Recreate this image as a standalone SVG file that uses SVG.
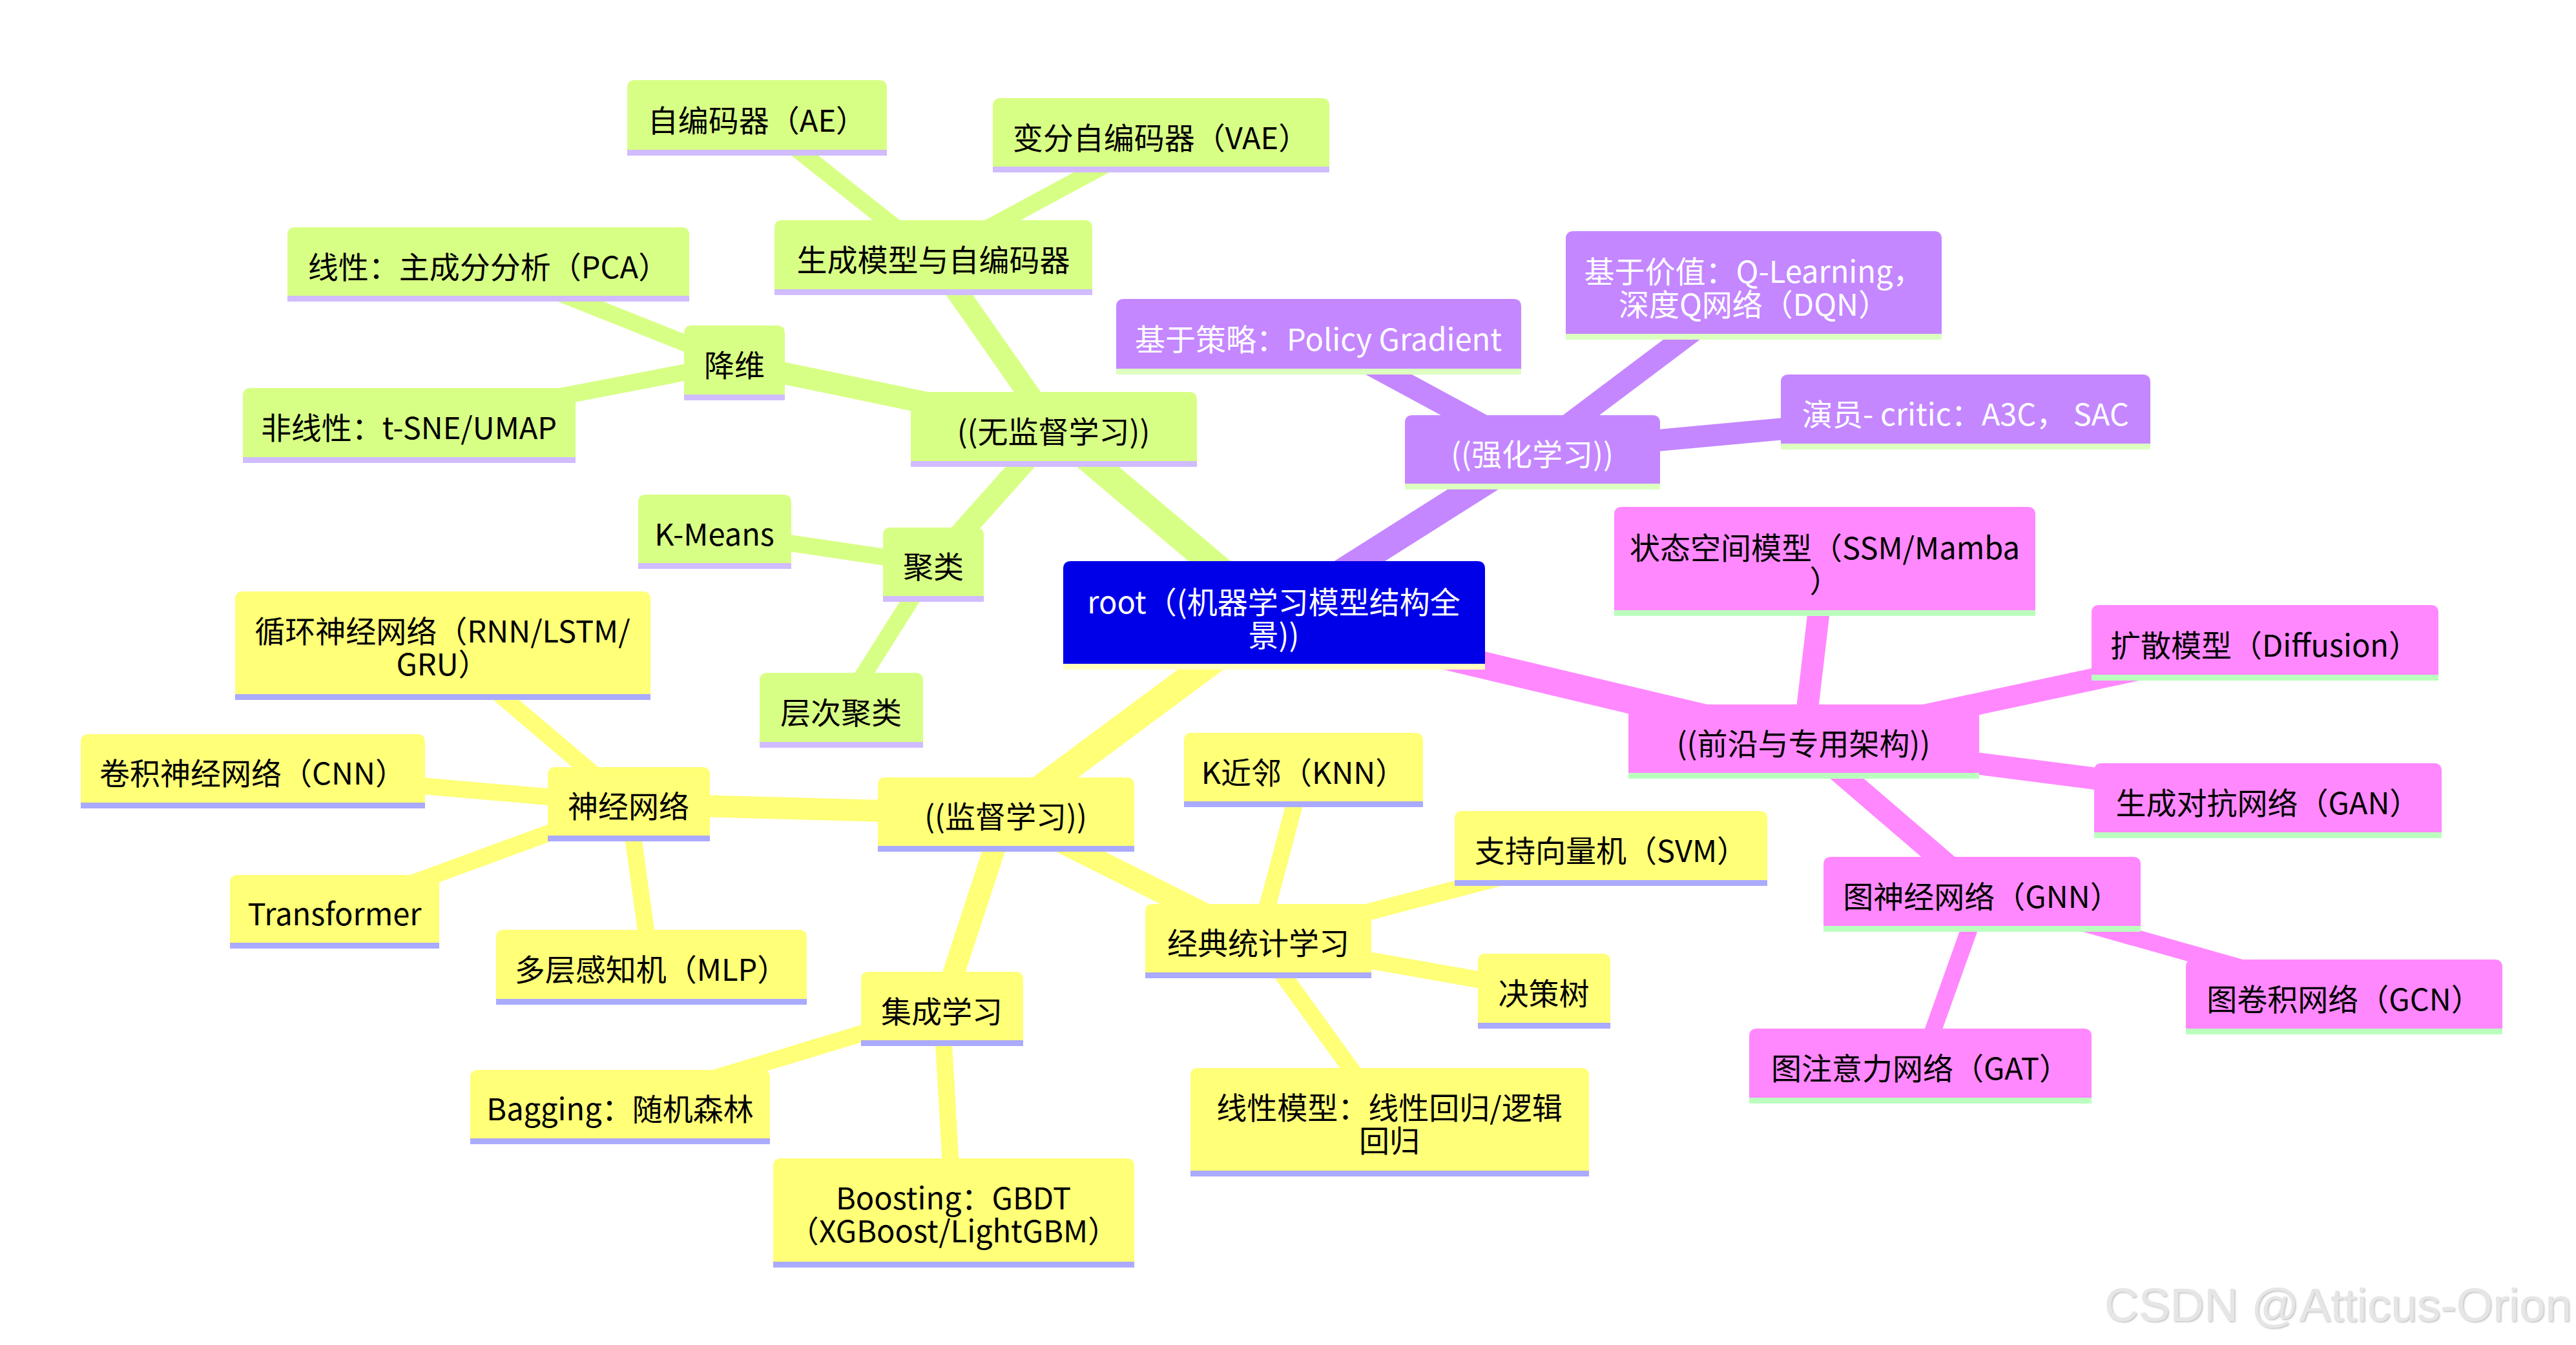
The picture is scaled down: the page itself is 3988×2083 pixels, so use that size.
<svg xmlns="http://www.w3.org/2000/svg" width="3988" height="2083" viewBox="0 0 3988 2083">
<style>
text{font-family:"Noto Sans CJK SC","Noto Sans",sans-serif;font-size:47px;text-anchor:middle;dominant-baseline:central;fill:#000}
.wt text{fill:#fff}
.e{fill:none;stroke-linecap:butt}
.ey{stroke:#ffff78}.eg{stroke:#d8ff85}.ep{stroke:#c487ff}.em{stroke:#ff88ff}
.w0{stroke-width:42}.w1{stroke-width:34}.w2{stroke-width:26}
.fy{fill:#ffff78}.fg{fill:#d8ff85}.fp{fill:#c487ff}.fm{fill:#ff88ff}.fr{fill:#0000e8}
.by{fill:#aaaaff}.bg{fill:#d0bcff}.bp{fill:#ddffc0}.bm{fill:#bbffbf}.br{fill:#ffffc0}
.wm{font-family:"Liberation Sans",Arial,sans-serif;font-size:73px;text-anchor:start;dominant-baseline:alphabetic;fill:#e6e6e6}
</style>
<defs>
<filter id="sh" x="-5%" y="-20%" width="110%" height="140%"><feDropShadow dx="1.5" dy="1.5" stdDeviation="0.8" flood-color="#b0b0b0" flood-opacity="0.8"/></filter>
</defs>
<rect width="3988" height="2083" fill="#fff"/>
<g id="connectors">
<line class="e eg w0" x1="1972" y1="953" x2="1631" y2="665"/>
<line class="e ep w0" x1="1972" y1="953" x2="2372" y2="700"/>
<line class="e em w0" x1="1972" y1="953" x2="2792" y2="1148"/>
<line class="e ey w0" x1="1972" y1="953" x2="1557" y2="1261"/>
<line class="e eg w1" x1="1631" y1="665" x2="1445" y2="399"/>
<line class="e eg w1" x1="1631" y1="665" x2="1137" y2="562"/>
<line class="e eg w1" x1="1631" y1="665" x2="1445" y2="874"/>
<line class="e eg w2" x1="1445" y1="399" x2="1172" y2="182"/>
<line class="e eg w2" x1="1445" y1="399" x2="1797" y2="209"/>
<line class="e eg w2" x1="1137" y1="562" x2="756" y2="410"/>
<line class="e eg w2" x1="1137" y1="562" x2="633" y2="659"/>
<line class="e eg w2" x1="1445" y1="874" x2="1106" y2="824"/>
<line class="e eg w2" x1="1445" y1="874" x2="1302" y2="1100"/>
<line class="e ep w1" x1="2372" y1="700" x2="2041" y2="521"/>
<line class="e ep w1" x1="2372" y1="700" x2="2715" y2="442"/>
<line class="e ep w1" x1="2372" y1="700" x2="3043" y2="638"/>
<line class="e em w1" x1="2792" y1="1148" x2="2825" y2="869"/>
<line class="e em w1" x1="2792" y1="1148" x2="3506" y2="995"/>
<line class="e em w1" x1="2792" y1="1148" x2="3511" y2="1240"/>
<line class="e em w1" x1="2792" y1="1148" x2="3068" y2="1385"/>
<line class="e em w2" x1="3068" y1="1385" x2="3629" y2="1544"/>
<line class="e em w2" x1="3068" y1="1385" x2="2973" y2="1651"/>
<line class="e ey w1" x1="1557" y1="1261" x2="973" y2="1245"/>
<line class="e ey w1" x1="1557" y1="1261" x2="1948" y2="1457"/>
<line class="e ey w1" x1="1557" y1="1261" x2="1458" y2="1563"/>
<line class="e ey w2" x1="973" y1="1245" x2="685" y2="1000"/>
<line class="e ey w2" x1="973" y1="1245" x2="391" y2="1194"/>
<line class="e ey w2" x1="973" y1="1245" x2="518" y2="1412"/>
<line class="e ey w2" x1="973" y1="1245" x2="1008" y2="1498"/>
<line class="e ey w2" x1="1948" y1="1457" x2="2018" y2="1193"/>
<line class="e ey w2" x1="1948" y1="1457" x2="2494" y2="1314"/>
<line class="e ey w2" x1="1948" y1="1457" x2="2390" y2="1535"/>
<line class="e ey w2" x1="1948" y1="1457" x2="2151" y2="1738"/>
<line class="e ey w2" x1="1458" y1="1563" x2="960" y2="1714"/>
<line class="e ey w2" x1="1458" y1="1563" x2="1476" y2="1878"/>
</g>

<g id="root" class="wt"><path class="fr" d="M1646 881Q1646 869 1658 869H2287Q2299 869 2299 881V1037H1646Z"/><rect class="br" x="1646" y="1028" width="653" height="9"/><text x="1972" y="929">root（(机器学习模型结构全<tspan x="1972" dy="51">景))</tspan></text></g>

<g id="n-unsup"><path class="fg" d="M1410 619Q1410 607 1422 607H1841Q1853 607 1853 619V723H1410Z"/><rect class="bg" x="1410" y="714" width="443" height="9"/><text x="1631" y="665">((无监督学习))</text></g>
<g id="n-gen"><path class="fg" d="M1199 353Q1199 341 1211 341H1679Q1691 341 1691 353V457H1199Z"/><rect class="bg" x="1199" y="448" width="492" height="9"/><text x="1445" y="399">生成模型与自编码器</text></g>
<g id="n-ae"><path class="fg" d="M971 136Q971 124 983 124H1361Q1373 124 1373 136V241H971Z"/><rect class="bg" x="971" y="232" width="402" height="9"/><text x="1172" y="183">自编码器（AE）</text></g>
<g id="n-vae"><path class="fg" d="M1537 164Q1537 152 1549 152H2046Q2058 152 2058 164V267H1537Z"/><rect class="bg" x="1537" y="258" width="521" height="9"/><text x="1797" y="210">变分自编码器（VAE）</text></g>
<g id="n-dim"><path class="fg" d="M1059 516Q1059 504 1071 504H1203Q1215 504 1215 516V620H1059Z"/><rect class="bg" x="1059" y="611" width="156" height="9"/><text x="1137" y="562">降维</text></g>
<g id="n-pca"><path class="fg" d="M445 364Q445 352 457 352H1055Q1067 352 1067 364V467H445Z"/><rect class="bg" x="445" y="458" width="622" height="9"/><text x="756" y="410">线性：主成分分析（PCA）</text></g>
<g id="n-nonlin"><path class="fg" d="M376 613Q376 601 388 601H879Q891 601 891 613V717H376Z"/><rect class="bg" x="376" y="708" width="515" height="9"/><text x="633" y="659">非线性：t-SNE/UMAP</text></g>
<g id="n-clu"><path class="fg" d="M1367 829Q1367 817 1379 817H1511Q1523 817 1523 829V932H1367Z"/><rect class="bg" x="1367" y="923" width="156" height="9"/><text x="1445" y="874">聚类</text></g>
<g id="n-km"><path class="fg" d="M988 778Q988 766 1000 766H1213Q1225 766 1225 778V881H988Z"/><rect class="bg" x="988" y="872" width="237" height="9"/><text x="1106" y="824">K-Means</text></g>
<g id="n-hier"><path class="fg" d="M1176 1054Q1176 1042 1188 1042H1417Q1429 1042 1429 1054V1158H1176Z"/><rect class="bg" x="1176" y="1149" width="253" height="9"/><text x="1302" y="1100">层次聚类</text></g>

<g id="n-rl" class="wt"><path class="fp" d="M2175 655Q2175 643 2187 643H2558Q2570 643 2570 655V758H2175Z"/><rect class="bp" x="2175" y="749" width="395" height="9"/><text x="2372" y="700">((强化学习))</text></g>
<g id="n-pg" class="wt"><path class="fp" d="M1728 475Q1728 463 1740 463H2343Q2355 463 2355 475V580H1728Z"/><rect class="bp" x="1728" y="571" width="627" height="9"/><text x="2041" y="522">基于策略：Policy Gradient</text></g>
<g id="n-val" class="wt"><path class="fp" d="M2424 370Q2424 358 2436 358H2994Q3006 358 3006 370V526H2424Z"/><rect class="bp" x="2424" y="517" width="582" height="9"/><text x="2715" y="417">基于价值：Q-Learning，<tspan x="2715" dy="51">深度Q网络（DQN）</tspan></text></g>
<g id="n-ac" class="wt"><path class="fp" d="M2757 592Q2757 580 2769 580H3317Q3329 580 3329 592V696H2757Z"/><rect class="bp" x="2757" y="687" width="572" height="9"/><text x="3043" y="638">演员- critic：A3C， SAC</text></g>

<g id="n-front"><path class="fm" d="M2521 1103Q2521 1091 2533 1091H3052Q3064 1091 3064 1103V1206H2521Z"/><rect class="bm" x="2521" y="1197" width="543" height="9"/><text x="2792" y="1148">((前沿与专用架构))</text></g>
<g id="n-ssm"><path class="fm" d="M2499 797Q2499 785 2511 785H3139Q3151 785 3151 797V954H2499Z"/><rect class="bm" x="2499" y="945" width="652" height="9"/><text x="2825" y="845">状态空间模型（SSM/Mamba<tspan x="2825" dy="51">）</tspan></text></g>
<g id="n-diff"><path class="fm" d="M3238 949Q3238 937 3250 937H3763Q3775 937 3775 949V1054H3238Z"/><rect class="bm" x="3238" y="1045" width="537" height="9"/><text x="3506" y="996">扩散模型（Diffusion）</text></g>
<g id="n-gan"><path class="fm" d="M3242 1194Q3242 1182 3254 1182H3768Q3780 1182 3780 1194V1298H3242Z"/><rect class="bm" x="3242" y="1289" width="538" height="9"/><text x="3511" y="1240">生成对抗网络（GAN）</text></g>
<g id="n-gnn"><path class="fm" d="M2823 1339Q2823 1327 2835 1327H3302Q3314 1327 3314 1339V1443H2823Z"/><rect class="bm" x="2823" y="1434" width="491" height="9"/><text x="3068" y="1385">图神经网络（GNN）</text></g>
<g id="n-gcn"><path class="fm" d="M3384 1498Q3384 1486 3396 1486H3862Q3874 1486 3874 1498V1602H3384Z"/><rect class="bm" x="3384" y="1593" width="490" height="9"/><text x="3629" y="1544">图卷积网络（GCN）</text></g>
<g id="n-gat"><path class="fm" d="M2708 1605Q2708 1593 2720 1593H3226Q3238 1593 3238 1605V1709H2708Z"/><rect class="bm" x="2708" y="1700" width="530" height="9"/><text x="2973" y="1651">图注意力网络（GAT）</text></g>

<g id="n-sup"><path class="fy" d="M1359 1216Q1359 1204 1371 1204H1744Q1756 1204 1756 1216V1319H1359Z"/><rect class="by" x="1359" y="1310" width="397" height="9"/><text x="1557" y="1261">((监督学习))</text></g>
<g id="n-nn"><path class="fy" d="M848 1200Q848 1188 860 1188H1087Q1099 1188 1099 1200V1303H848Z"/><rect class="by" x="848" y="1294" width="251" height="9"/><text x="973" y="1245">神经网络</text></g>
<g id="n-rnn"><path class="fy" d="M364 928Q364 916 376 916H995Q1007 916 1007 928V1084H364Z"/><rect class="by" x="364" y="1075" width="643" height="9"/><text x="685" y="974">循环神经网络（RNN/LSTM/<tspan x="685" dy="51">GRU）</tspan></text></g>
<g id="n-cnn"><path class="fy" d="M125 1149Q125 1137 137 1137H646Q658 1137 658 1149V1252H125Z"/><rect class="by" x="125" y="1243" width="533" height="9"/><text x="391" y="1194">卷积神经网络（CNN）</text></g>
<g id="n-tf"><path class="fy" d="M356 1367Q356 1355 368 1355H668Q680 1355 680 1367V1469H356Z"/><rect class="by" x="356" y="1460" width="324" height="9"/><text x="518" y="1412">Transformer</text></g>
<g id="n-mlp"><path class="fy" d="M768 1452Q768 1440 780 1440H1237Q1249 1440 1249 1452V1556H768Z"/><rect class="by" x="768" y="1547" width="481" height="9"/><text x="1008" y="1498">多层感知机（MLP）</text></g>
<g id="n-cls"><path class="fy" d="M1773 1412Q1773 1400 1785 1400H2111Q2123 1400 2123 1412V1515H1773Z"/><rect class="by" x="1773" y="1506" width="350" height="9"/><text x="1948" y="1457">经典统计学习</text></g>
<g id="n-knn"><path class="fy" d="M1833 1147Q1833 1135 1845 1135H2191Q2203 1135 2203 1147V1250H1833Z"/><rect class="by" x="1833" y="1241" width="370" height="9"/><text x="2018" y="1193">K近邻（KNN）</text></g>
<g id="n-svm"><path class="fy" d="M2252 1268Q2252 1256 2264 1256H2724Q2736 1256 2736 1268V1372H2252Z"/><rect class="by" x="2252" y="1363" width="484" height="9"/><text x="2494" y="1314">支持向量机（SVM）</text></g>
<g id="n-dt"><path class="fy" d="M2288 1489Q2288 1477 2300 1477H2481Q2493 1477 2493 1489V1593H2288Z"/><rect class="by" x="2288" y="1584" width="205" height="9"/><text x="2390" y="1535">决策树</text></g>
<g id="n-lin"><path class="fy" d="M1843 1666Q1843 1654 1855 1654H2448Q2460 1654 2460 1666V1822H1843Z"/><rect class="by" x="1843" y="1813" width="617" height="9"/><text x="2151" y="1712">线性模型：线性回归/逻辑<tspan x="2151" dy="51">回归</tspan></text></g>
<g id="n-ens"><path class="fy" d="M1333 1517Q1333 1505 1345 1505H1572Q1584 1505 1584 1517V1620H1333Z"/><rect class="by" x="1333" y="1611" width="251" height="9"/><text x="1458" y="1563">集成学习</text></g>
<g id="n-bag"><path class="fy" d="M728 1669Q728 1657 740 1657H1180Q1192 1657 1192 1669V1772H728Z"/><rect class="by" x="728" y="1763" width="464" height="9"/><text x="960" y="1714">Bagging：随机森林</text></g>
<g id="n-boost"><path class="fy" d="M1197 1806Q1197 1794 1209 1794H1744Q1756 1794 1756 1806V1963H1197Z"/><rect class="by" x="1197" y="1954" width="559" height="9"/><text x="1476" y="1852">Boosting：GBDT<tspan x="1476" dy="51">（XGBoost/LightGBM）</tspan></text></g>

<text class="wm" x="3258" y="2046" filter="url(#sh)">CSDN @Atticus-Orion</text>
</svg>
